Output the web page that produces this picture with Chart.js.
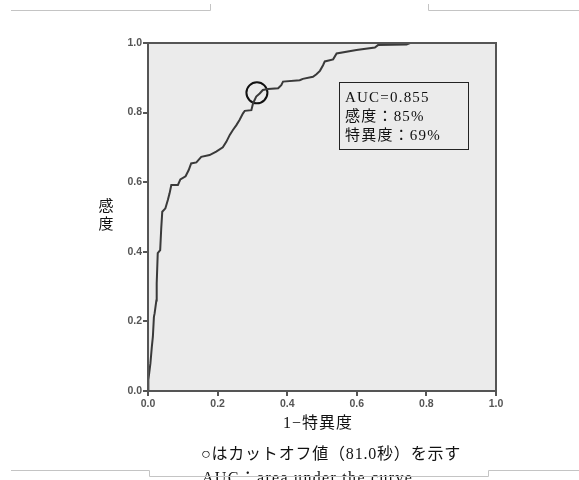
<!DOCTYPE html>
<html><head><meta charset="utf-8">
<script src="https://cdn.jsdelivr.net/npm/chart.js@4/dist/chart.umd.min.js"></script>
<style>html,body{margin:0;padding:0;background:#fff}#wrap{width:579px;height:480px;position:relative}</style>
</head><body><div id="wrap"><canvas id="c" width="579" height="480"></canvas></div>
<script>
// 1−特異度 (false positive rate)
const fpr = [0, 0.000, 0.002, 0.007, 0.011, 0.014, 0.017, 0.019, 0.024, 0.025, 0.028, 0.035, 0.038, 0.041, 0.050, 0.057, 0.062, 0.067, 0.086, 0.093, 0.108, 0.117, 0.124, 0.139, 0.153, 0.177, 0.196, 0.215, 0.225, 0.235, 0.244, 0.254, 0.263, 0.273, 0.278, 0.297, 0.302, 0.311, 0.321, 0.330, 0.345, 0.374, 0.383, 0.388, 0.436, 0.445, 0.474, 0.484, 0.494, 0.503, 0.508, 0.532, 0.542, 0.599, 0.652, 0.661, 0.743, 0.753, 1.0];
// 感度 (sensitivity)
const tpr = [0, 0.005, 0.032, 0.080, 0.127, 0.156, 0.213, 0.223, 0.260, 0.309, 0.396, 0.405, 0.467, 0.515, 0.525, 0.549, 0.568, 0.592, 0.592, 0.608, 0.617, 0.635, 0.654, 0.657, 0.673, 0.678, 0.688, 0.700, 0.716, 0.736, 0.750, 0.764, 0.779, 0.798, 0.805, 0.807, 0.827, 0.846, 0.855, 0.865, 0.868, 0.870, 0.879, 0.889, 0.893, 0.897, 0.903, 0.910, 0.920, 0.936, 0.947, 0.953, 0.970, 0.980, 0.987, 0.994, 0.996, 1.0, 1.0];
const cutoffFpr = [0.313];
const cutoffTpr = [0.857];
const xTicks = [0, 0.2, 0.4, 0.6, 0.8, 1.0];
const yTicks = [0, 0.2, 0.4, 0.6, 0.8, 1.0];
const xTitle = '1−特異度';
const yTitle = ['感', '度'];
const noteLines = ['AUC=0.855', '感度：85%', '特異度：69%'];
const noteBox = {x0: 0.549, x1: 0.920, y0: 0.887, y1: 0.695};
const captionLines = ['○はカットオフ値（81.0秒）を示す', 'AUC：area under the curve'];

const curve = fpr.map((x, i) => ({x, y: tpr[i]}));
const cut = cutoffFpr.map((x, i) => ({x, y: cutoffTpr[i]}));

const CJK = '"Noto Sans CJK JP"';
const SERIF = '"Liberation Serif", ' + CJK;

function spacing(ctx, v) { try { ctx.letterSpacing = v; } catch (e) {} }

const decor = {
  id: 'decor',
  beforeDraw(chart) {
    const {ctx, chartArea: a} = chart;
    ctx.save();
    ctx.fillStyle = '#ebebeb';
    ctx.fillRect(a.left, a.top, a.right - a.left, a.bottom - a.top);
    ctx.restore();
  },
  afterDraw(chart) {
    const {ctx, chartArea: a, scales} = chart;
    const xs = scales.x, ys = scales.y;
    ctx.save();
    // plot frame
    ctx.strokeStyle = '#555';
    ctx.lineWidth = 2;
    ctx.strokeRect(a.left, a.top, a.right - a.left, a.bottom - a.top);

    // note box
    const bx0 = xs.getPixelForValue(noteBox.x0), bx1 = xs.getPixelForValue(noteBox.x1);
    const by0 = ys.getPixelForValue(noteBox.y0), by1 = ys.getPixelForValue(noteBox.y1);
    ctx.strokeStyle = '#222';
    ctx.lineWidth = 1;
    ctx.strokeRect(Math.round(bx0) + 0.5, Math.round(by0) + 0.5, Math.round(bx1 - bx0), Math.round(by1 - by0));
    ctx.fillStyle = '#111';
    ctx.font = '15px ' + SERIF;
    ctx.textBaseline = 'middle';
    ctx.textAlign = 'left';
    spacing(ctx, '1.2px');
    noteLines.forEach((t, i) => ctx.fillText(t, bx0 + 6, by0 + 16 + i * 19));
    spacing(ctx, '0px');

    // axis titles
    ctx.font = '16px ' + SERIF;
    ctx.textAlign = 'center';
    spacing(ctx, '1px');
    ctx.fillText(xTitle, (a.left + a.right) / 2 - 4, 424);
    spacing(ctx, '0px');
    ctx.font = '15px ' + CJK;
    yTitle.forEach((t, i) => ctx.fillText(t, 106, 205 + i * 18));

    // captions
    ctx.font = '16px ' + SERIF;
    ctx.textAlign = 'left';
    spacing(ctx, '0.8px');
    ctx.fillText(captionLines[0], 201, 455);
    ctx.font = '16px ' + SERIF;
    spacing(ctx, '1.3px');
    ctx.fillText(captionLines[1], 202, 479);
    spacing(ctx, '0px');

    // page decoration lines
    ctx.strokeStyle = '#c4c4c4';
    ctx.lineWidth = 1;
    ctx.beginPath();
    ctx.moveTo(11, 10.5); ctx.lineTo(210.5, 10.5); ctx.lineTo(210.5, 4);
    ctx.moveTo(428.5, 4); ctx.lineTo(428.5, 10.5); ctx.lineTo(579, 10.5);
    ctx.moveTo(11, 470.5); ctx.lineTo(149.5, 470.5); ctx.lineTo(149.5, 476.5);
    ctx.lineTo(488.5, 476.5); ctx.lineTo(488.5, 470.5); ctx.lineTo(579, 470.5);
    ctx.stroke();
    ctx.restore();
  }
};

const tickFont = {size: 10.5, family: 'Liberation Sans', weight: 'bold'};

new Chart(document.getElementById('c'), {
  type: 'scatter',
  data: {
    datasets: [
      {data: curve, showLine: true, borderColor: '#3a3a3a', borderWidth: 2, pointRadius: 0, tension: 0, fill: false},
      {data: cut, showLine: false, pointRadius: 10.5, pointBorderWidth: 2, pointBorderColor: '#111', pointBackgroundColor: 'rgba(0,0,0,0)'}
    ]
  },
  options: {
    responsive: false,
    animation: false,
    devicePixelRatio: 1,
    layout: {padding: {left: 0, right: 83, top: 43, bottom: 0}},
    plugins: {legend: {display: false}, tooltip: {enabled: false}},
    scales: {
      x: {
        type: 'linear', min: 0, max: 1,
        afterBuildTicks: s => { s.ticks = xTicks.map(v => ({value: v})); },
        afterFit: s => { s.height = 89; s.paddingLeft = 0; s.paddingRight = 0; s.paddingTop = 0; s.paddingBottom = 0; },
        ticks: {callback: v => Number(v).toFixed(1), color: '#555', font: tickFont, padding: 2, maxRotation: 0},
        grid: {display: true, drawOnChartArea: false, drawTicks: true, tickLength: 5, color: '#555', lineWidth: 2},
        border: {display: true, color: '#555', width: 2}
      },
      y: {
        type: 'linear', min: 0, max: 1,
        afterBuildTicks: s => { s.ticks = yTicks.map(v => ({value: v})); },
        afterFit: s => { s.width = 148; s.paddingLeft = 0; s.paddingRight = 0; s.paddingTop = 0; s.paddingBottom = 0; },
        ticks: {callback: v => Number(v).toFixed(1), color: '#555', font: tickFont, padding: 1},
        grid: {display: true, drawOnChartArea: false, drawTicks: true, tickLength: 5, color: '#555', lineWidth: 2},
        border: {display: true, color: '#555', width: 2}
      }
    }
  },
  plugins: [decor]
});
</script>
</body></html>
